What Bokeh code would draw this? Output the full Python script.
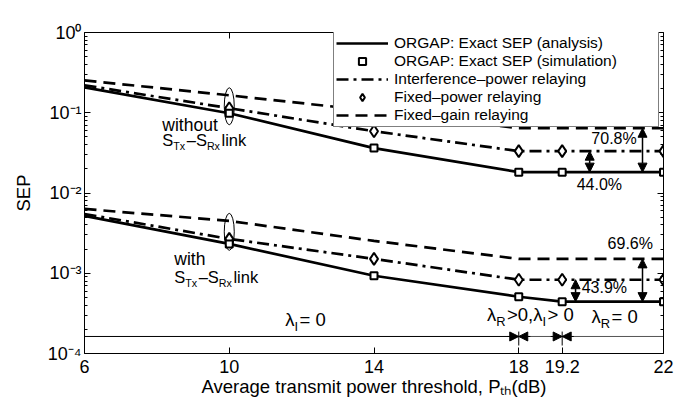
import numpy as np
from bokeh.plotting import figure
from bokeh.models import (Range1d, FixedTicker, LinearAxis, LogAxis, Label, Arrow,
                          NormalHead, Legend, LegendItem)
from bokeh.embed import file_html
from bokeh.resources import INLINE

# ---------------- data ----------------
pth = [6, 10, 14, 18, 19.2, 22]
sim_x = [10, 14, 18, 19.2, 22]
x_ticks = [6, 10, 14, 18, 19.2, 22]
x_tick_labels = {6: "6", 10: "10", 14: "14", 18: "18", 19.2: "19.2", 22: "22"}
y_ticks = [1e-4, 1e-3, 1e-2, 1e-1, 1]
y_tick_labels = {1e-4: "10⁻⁴", 1e-3: "10⁻³", 1e-2: "10⁻²", 1e-1: "10⁻¹", 1: "10⁰"}

# without S_Tx-S_Rx link
wo_orgap = [0.207, 0.0986, 0.0363, 0.0182, 0.0182, 0.0182]
wo_orgap_sim = [0.0986, 0.0363, 0.0182, 0.0182, 0.0182]
wo_interf = [0.22, 0.114, 0.0589, 0.0332, 0.0332, 0.0332]
wo_fixedpower = [0.114, 0.0589, 0.0332, 0.0332, 0.0332]
wo_fixedgain = [0.253, 0.165, 0.105, 0.0641, 0.0641, 0.0641]
# with S_Tx-S_Rx link
w_orgap = [0.00518, 0.00232, 0.000931, 0.00051, 0.000443, 0.000443]
w_orgap_sim = [0.00232, 0.000931, 0.00051, 0.000443, 0.000443]
w_interf = [0.00548, 0.00268, 0.00151, 0.00083, 0.00083, 0.00083]
w_fixedpower = [0.00268, 0.00151, 0.00083, 0.00083, 0.00083]
w_fixedgain = [0.00633, 0.00449, 0.00253, 0.00151, 0.00151, 0.00151]

# annotation helpers
ell_x = [10, 10]
ell_y = [0.1205, 0.00328]
lam_line_y = 1.63e-4
lam_marks = [18, 19.2]
lam_mark_lo = 1.257e-4
lam_mark_hi = 1.876e-4

FONT = "Liberation Sans"

W = {' ': 278, 'A': 667, 'B': 667, 'C': 722, 'D': 722, 'E': 667, 'F': 611, 'G': 778,
     'H': 722, 'I': 278, 'P': 667, 'R': 722, 'S': 667, 'T': 611, 'O': 778,
     'a': 556, 'b': 556, 'c': 500, 'd': 556, 'e': 556, 'f': 278, 'g': 556, 'h': 556,
     'i': 222, 'k': 500, 'l': 222, 'm': 833, 'n': 556, 'o': 556, 'p': 556, 'r': 333,
     's': 500, 't': 278, 'u': 556, 'v': 500, 'w': 722, 'x': 500, 'y': 500,
     ',': 278, '.': 278, '(': 333, ')': 333, ':': 278, '=': 584, '>': 584,
     '%': 889, '–': 556, '−': 584, 'λ': 500}


def tw(s, fs):
    return sum(W.get(c, 556) for c in s) * fs / 1000.0


p = figure(width=684, height=399, x_range=Range1d(6, 22), y_range=Range1d(1e-4, 1),
           y_axis_type="log", toolbar_location=None, output_backend="svg",
           min_border_left=84, min_border_right=21, min_border_top=32, min_border_bottom=46)
p.outline_line_color = None
p.grid.visible = False
p.background_fill_color = "white"


def style_axis(ax):
    ax.axis_line_color = "black"
    ax.axis_line_width = 1
    ax.major_tick_in = 6
    ax.major_tick_out = 0
    ax.minor_tick_in = 3
    ax.minor_tick_out = 0
    ax.major_tick_line_color = "black"
    ax.minor_tick_line_color = "black"
    ax.major_label_text_font = FONT
    ax.major_label_text_color = "black"
    ax.axis_label_text_font = FONT
    ax.axis_label_text_font_style = "normal"
    ax.axis_label_text_color = "black"


yminor = [k * 10.0 ** e for e in range(-4, 0) for k in range(2, 10)]

xa = p.xaxis[0]
xa.ticker = FixedTicker(ticks=x_ticks, minor_ticks=[])
xa.major_label_overrides = x_tick_labels
style_axis(xa)
xa.major_label_text_font_size = "18px"
xa.major_label_standoff = 6
xa.axis_label = "Average transmit power threshold, Pₜₕ(dB)"
xa.axis_label_text_font_size = "18.5px"
xa.axis_label_standoff = 0

ya = p.yaxis[0]
ya.ticker = FixedTicker(ticks=y_ticks, minor_ticks=yminor)
style_axis(ya)
ya.major_label_overrides = y_tick_labels
ya.major_label_text_font_size = "18px"
ya.major_label_standoff = 3
ya.axis_label = "SEP"
ya.axis_label_text_font_size = "18.5px"
ya.axis_label_standoff = 11

top = LinearAxis(ticker=FixedTicker(ticks=x_ticks, minor_ticks=[]),
                 major_label_overrides={t: "" for t in x_ticks})
style_axis(top)
top.major_label_standoff = 0
p.add_layout(top, "above")
right = LogAxis(ticker=FixedTicker(ticks=y_ticks, minor_ticks=yminor),
                major_label_overrides={t: "" for t in y_ticks})
style_axis(right)
right.major_label_standoff = 0
p.add_layout(right, "right")

LW = 2.7
DASH = "12 7"
DASHDOT = "12 5 3 5"

# curves
r_fg1 = p.line(pth, wo_fixedgain, line_color="black", line_width=LW, line_dash=DASH)
r_fg2 = p.line(pth, w_fixedgain, line_color="black", line_width=LW, line_dash=DASH)
r_ip1 = p.line(pth, wo_interf, line_color="black", line_width=LW, line_dash=DASHDOT)
r_ip2 = p.line(pth, w_interf, line_color="black", line_width=LW, line_dash=DASHDOT)
r_an1 = p.line(pth, wo_orgap, line_color="black", line_width=LW)
r_an2 = p.line(pth, w_orgap, line_color="black", line_width=LW)
r_fp1 = p.scatter(sim_x, wo_fixedpower, marker="diamond", size=12, line_color="black",
                  line_width=2, fill_color="white")
r_fp2 = p.scatter(sim_x, w_fixedpower, marker="diamond", size=12, line_color="black",
                  line_width=2, fill_color="white")
r_sim1 = p.scatter(sim_x, wo_orgap_sim, marker="square", size=7, line_color="black",
                   line_width=2, fill_color="white")
r_sim2 = p.scatter(sim_x, w_orgap_sim, marker="square", size=7, line_color="black",
                   line_width=2, fill_color="white")

# ellipses
p.ellipse(x=ell_x, y=ell_y, width=10, height=37, width_units="screen",
          height_units="screen", fill_color=None, line_color="black", line_width=1)

# lambda line
p.line([6, 18], [lam_line_y, lam_line_y], line_color="black", line_width=1)
p.line([18, 22], [lam_line_y, lam_line_y], line_color="#555555", line_width=1)
p.segment(x0=lam_marks, y0=[lam_mark_lo] * 2, x1=lam_marks, y1=[lam_mark_hi] * 2,
          line_color="black", line_width=1)


def head():
    return NormalHead(size=9, fill_color="black", line_color="black", line_width=1)


for xm in lam_marks:
    p.add_layout(Arrow(end=head(), x_start=xm - 0.32, x_end=xm,
                       y_start=lam_line_y, y_end=lam_line_y, line_width=1))
    p.add_layout(Arrow(end=head(), x_start=xm + 0.32, x_end=xm,
                       y_start=lam_line_y, y_end=lam_line_y, line_width=1))

# percentage double arrows
arrows = [
    (21.42, wo_fixedgain[-1], wo_orgap[-1]),
    (19.96, wo_interf[-1], wo_orgap[-1]),
    (21.42, w_fixedgain[-1], w_orgap[-1]),
    (19.57, w_interf[-1], w_orgap[-1]),
]
for xa_, y0, y1 in arrows:
    p.add_layout(Arrow(start=head(), end=head(), x_start=xa_, x_end=xa_,
                       y_start=y0, y_end=y1, line_width=1.5))


def rich(x, y, segs, fs, align="left", xo=0.0, yo=0.0, sub=0.7):
    sizes = [fs if k == "n" else fs * sub for _, k in segs]
    gaps = [1.5 if k != "n" else 0.0 for _, k in segs]
    total = sum(tw(t, f) + g for (t, _), f, g in zip(segs, sizes, gaps))
    if align == "center":
        cur = xo - total / 2
    elif align == "right":
        cur = xo - total
    else:
        cur = xo
    for (t, k), f, g in zip(segs, sizes, gaps):
        dy = 0 if k == "n" else (-0.36 * fs if k == "b" else 0.45 * fs)
        p.add_layout(Label(x=x, y=y, x_offset=cur, y_offset=yo + dy, text=t,
                           text_font=FONT, text_font_size=f"{f:.1f}px",
                           text_baseline="middle", text_align="left",
                           text_color="black"))
        cur += tw(t, f) + g


# in-plot texts
rich(8.15, 0.070, [("without", "n")], 17.5)
rich(8.15, 0.0455, [("S", "n"), ("Tx", "b"), ("–S", "n"), ("Rx", "b"), (" link", "n")],
     16.5, sub=0.65)
rich(8.48, 0.00151, [("with", "n")], 17.5)
rich(8.48, 9.05e-4, [("S", "n"), ("Tx", "b"), ("–S", "n"), ("Rx", "b"), (" link", "n")],
     16.5, sub=0.65)
rich(21.26, 0.0482, [("70.8%", "n")], 16, align="right")
rich(19.6, 0.01294, [("44.0%", "n")], 16)
rich(20.455, 0.00232, [("69.6%", "n")], 16)
rich(19.74, 6.6e-4, [("43.9%", "n")], 16)
rich(11.545, 2.64e-4, [("λ", "n"), ("I", "b"), (" = 0", "n")], 18.5)
rich(17.12, 3.05e-4, [("λ", "n"), ("R", "b"), (">0,λ", "n"), ("I", "b"), (" > 0", "n")], 18.5)
rich(20.01, 2.88e-4, [("λ", "n"), ("R", "b"), (" = 0", "n")], 18.5)

# legend (kept inside the frame)
legend = Legend(items=[
    LegendItem(label="ORGAP: Exact SEP (analysis)", renderers=[r_an1]),
    LegendItem(label="ORGAP: Exact SEP (simulation)", renderers=[r_sim1]),
    LegendItem(label="Interference–power relaying", renderers=[r_ip1]),
    LegendItem(label="Fixed–power relaying", renderers=[r_fp1]),
    LegendItem(label="Fixed–gain relaying", renderers=[r_fg1]),
])
legend.label_text_font = FONT
legend.label_text_font_size = "15.5px"
legend.label_text_color = "black"
legend.label_height = 18
legend.glyph_height = 18
legend.glyph_width = 52
legend.label_width = 262
legend.label_standoff = 6
legend.spacing = 0
legend.padding = 2
legend.margin = 0
legend.border_line_color = "black"
legend.border_line_width = 1
legend.background_fill_color = "white"
legend.background_fill_alpha = 1.0
legend.location = (249, 321 - 1 - 94)
p.add_layout(legend, "center")

open("out.html", "w").write(file_html(p, INLINE))
